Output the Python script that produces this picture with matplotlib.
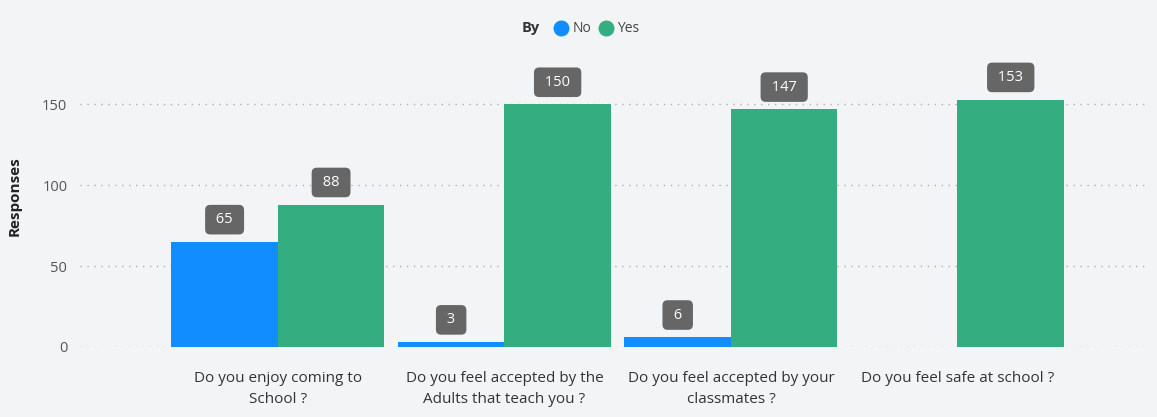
import matplotlib.pyplot as plt
import numpy as np

questions = ["Do you enjoy coming to\nSchool ?",
             "Do you feel accepted by the\nAdults that teach you ?",
             "Do you feel accepted by your\nclassmates ?",
             "Do you feel safe at school ?"]
no_vals = [65, 3, 6, 0]
yes_vals = [88, 150, 147, 153]
yticks = [0, 50, 100, 150]

blue = "#118dff"
green = "#34ae80"
bg = "#f3f4f6"

plt.rcParams['font.family'] = ['Open Sans', 'DejaVu Sans']

fig = plt.figure(figsize=(11.57, 4.17), dpi=100, facecolor=bg)
ax = fig.add_axes([0.069, 0.168, 0.925, 0.69])
ax.set_facecolor("none")

x = np.arange(len(questions))
w = 0.47
bars_no = ax.bar(x - w / 2, no_vals, w, color=blue, zorder=3)
bars_yes = ax.bar(x + w / 2, yes_vals, w, color=green, zorder=3)


def label_bars(bars, vals):
    for b, v in zip(bars, vals):
        if v == 0:
            continue
        ax.annotate(" %d " % v, (b.get_x() + b.get_width() / 2, v),
                    xytext=(0, 16), textcoords="offset points",
                    ha="center", va="center", fontsize=10.5, color="white",
                    bbox=dict(boxstyle="round,pad=0.5,rounding_size=0.35",
                              fc="#666666", ec="none"), zorder=5)


label_bars(bars_no, no_vals)
label_bars(bars_yes, yes_vals)

ax.set_xlim(-0.874, 3.85)
ax.set_ylim(0, 178)
ax.set_yticks(yticks)
ax.set_xticks(x)
ax.set_xticklabels(questions, fontsize=11, color="#333333", linespacing=1.55)
ax.tick_params(axis="y", labelsize=10.5, colors="#555555", length=0, pad=9)
ax.tick_params(axis="x", length=0, pad=17)
ax.grid(axis="y", linestyle=(0, (1, 4)), color="#b0b0b0", linewidth=1, zorder=0)
for s in ax.spines.values():
    s.set_visible(False)

fig.text(0.013, 0.53, "Responses", rotation=90, ha="center", va="center",
         fontsize=11, fontweight="bold", color="#222222")

# legend
fig.text(0.451, 0.932, "By", fontsize=10.5, fontweight="bold", color="#333333",
         ha="left", va="center")
fig.lines.append(plt.Line2D([0.4845], [0.932], marker="o", markersize=10.5,
                            color=blue, transform=fig.transFigure))
fig.text(0.4945, 0.932, "No", fontsize=10, color="#444444", ha="left", va="center")
fig.lines.append(plt.Line2D([0.5235], [0.932], marker="o", markersize=10.5,
                            color=green, transform=fig.transFigure))
fig.text(0.5335, 0.932, "Yes", fontsize=10, color="#444444", ha="left", va="center")

fig.savefig("out.png", dpi=100, facecolor=bg)
